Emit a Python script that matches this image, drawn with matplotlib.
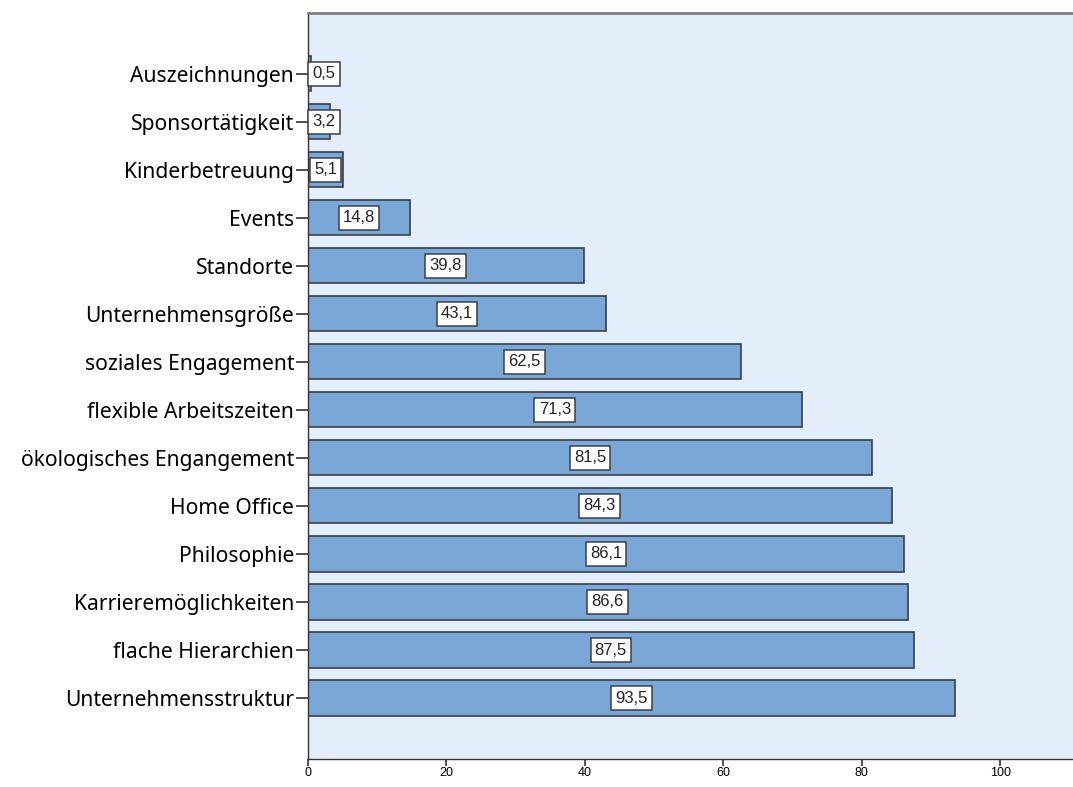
import matplotlib
matplotlib.use('Agg')
import matplotlib.pyplot as plt

categories = ['Auszeichnungen', 'Sponsortätigkeit', 'Kinderbetreuung', 'Events',
              'Standorte', 'Unternehmensgröße', 'soziales Engagement',
              'flexible Arbeitszeiten', 'ökologisches Engangement', 'Home Office',
              'Philosophie', 'Karrieremöglichkeiten', 'flache Hierarchien',
              'Unternehmensstruktur']
values = [0.5, 3.2, 5.1, 14.8, 39.8, 43.1, 62.5, 71.3, 81.5, 84.3, 86.1, 86.6, 87.5, 93.5]
xticks = [0, 20, 40, 60, 80, 100]

bar_color = '#7ba7d6'
bg_color = '#e3eefa'
edge_color = '#3a3f47'

fig = plt.figure(figsize=(10.73, 7.87), dpi=100)
ax = fig.add_axes([0.287, 0.0356, 0.713, 0.948])
ax.set_facecolor(bg_color)

y = list(range(len(categories)))
ax.barh(y, values, height=0.73, color=bar_color, edgecolor=edge_color, linewidth=1.2, zorder=2)

# Werte in weissen Kaestchen, mittig im Balken
for i, v in enumerate(values):
    xpos = max(v / 2, 2.3)
    ax.text(xpos, i, f'{v:.1f}'.replace('.', ','), ha='center', va='center',
            fontsize=12, family=['Liberation Sans', 'DejaVu Sans'], color='#222222', zorder=3,
            bbox=dict(boxstyle='square,pad=0.25', fc='white', ec=edge_color, lw=1.1))

ax.set_xlim(0, 110.5)
ax.set_ylim(len(categories) - 1 + 1.27, -1.27)
ax.set_yticks(y)
ax.set_yticklabels(categories, family=['Noto Sans', 'DejaVu Sans'], fontsize=15.2)
ax.set_xticks(xticks)
ax.set_xticklabels([str(t) for t in xticks], family=['Liberation Sans', 'DejaVu Sans'], fontsize=9)
ax.tick_params(axis='y', length=9, width=1.2, color='#333333', pad=1)
ax.tick_params(axis='x', length=5, width=1.2, color='#333333', pad=1)

ax.spines['right'].set_visible(False)
ax.spines['top'].set_color('#808080')
ax.spines['top'].set_linewidth(2)
ax.spines['left'].set_color('#333333')
ax.spines['bottom'].set_color('#333333')
ax.spines['left'].set_linewidth(1)
ax.spines['bottom'].set_linewidth(1)

plt.savefig('out.png', dpi=100)
